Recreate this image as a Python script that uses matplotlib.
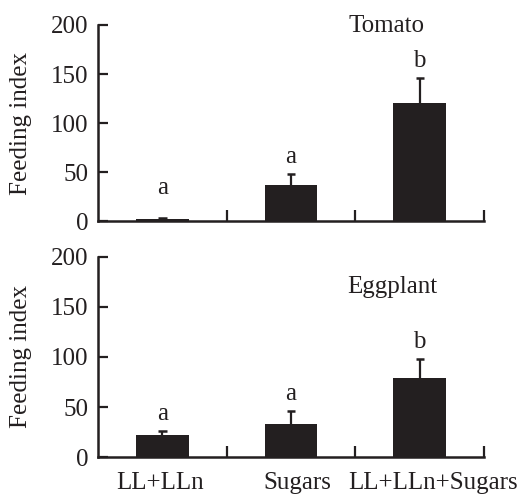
import numpy as np
import matplotlib.pyplot as plt

plt.rcParams['font.family'] = ['Liberation Serif', 'DejaVu Serif']
plt.rcParams['font.size'] = 18

categories = ['LL+LLn', 'Sugars', 'LL+LLn+Sugars']
tomato_mean = [2, 37, 120]
tomato_err = [1, 11, 26]
eggplant_mean = [22, 33, 79]
eggplant_err = [4, 13, 19]
letters = ['a', 'a', 'b']
host_names = ['Tomato', 'Eggplant']

bar_color = '#231f20'
x = np.arange(len(categories)) + 0.5
# category labels are set a little off the bar centres in the original
label_x = x + np.array([-0.02, 0.05, 0.10])

fig = plt.figure(figsize=(5.19, 4.96), dpi=100)
ax1 = fig.add_axes([0.189, 0.5544, 0.7436, 0.3952])
ax2 = fig.add_axes([0.189, 0.0786, 0.7436, 0.4033])

panels = [(ax1, tomato_mean, tomato_err, host_names[0], (2.24, 199)),
          (ax2, eggplant_mean, eggplant_err, host_names[1], (2.29, 170))]

for ax, mean, err, name, pos in panels:
    mean = np.array(mean)
    err = np.array(err)
    ax.bar(x, mean, width=0.41, color=bar_color, zorder=2)
    # upper half of the error bar only
    ax.vlines(x, mean, mean + err, color=bar_color, lw=1.6, zorder=1)
    ax.hlines(mean + err, x - 0.032, x + 0.032, color=bar_color, lw=1.8, zorder=1)
    for xi, m, e, lab in zip(x, mean, err, letters):
        ax.text(xi, max(m + e, 17) + 17, lab, ha='center', va='center', color=bar_color)
    ax.text(pos[0], pos[1], name, ha='center', va='center', color=bar_color)

    ax.set_xlim(0, 3)
    ax.set_ylim(0, 200)
    ax.set_yticks([0, 50, 100, 150, 200])
    ax.spines['top'].set_visible(False)
    ax.spines['right'].set_visible(False)
    for s in ['left', 'bottom']:
        ax.spines[s].set_linewidth(1.8)
        ax.spines[s].set_color(bar_color)
    ax.tick_params(axis='y', direction='in', length=7, width=1.6, pad=7, colors=bar_color)
    ax.set_xticks(label_x)
    ax.set_xticks([1, 2, 3], minor=True)
    ax.tick_params(axis='x', which='major', length=0, pad=11, colors=bar_color)
    ax.tick_params(axis='x', which='minor', direction='in', length=8, width=1.6, color=bar_color)
    ax.set_ylabel('Feeding index', color=bar_color)
    ax.yaxis.set_label_coords(-0.171, 0.5)

ax1.set_xticklabels([])
ax2.set_xticklabels(categories)

fig.savefig('out.png', dpi=100)
